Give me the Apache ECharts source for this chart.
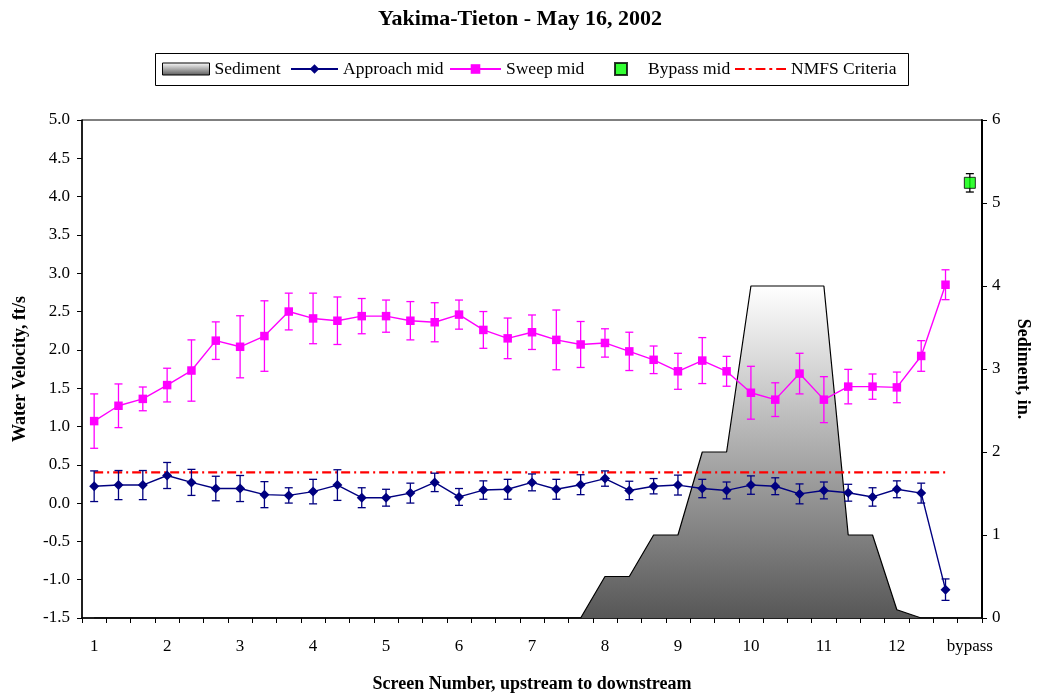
<!DOCTYPE html>
<html>
<head>
<meta charset="utf-8">
<title>Yakima-Tieton - May 16, 2002</title>
<script src="https://cdn.jsdelivr.net/npm/echarts@6/dist/echarts.min.js"></script>
<style>
  html, body { margin: 0; padding: 0; background: #fff; }
  #chart { width: 1040px; height: 698px; }
</style>
</head>
<body>
<div id="chart"></div>
<script>
// Screen labels shown under every third measurement position
const screenLabels = ['1', '2', '3', '4', '5', '6', '7', '8', '9', '10', '11', '12', 'bypass'];

// Mid-depth water velocity (ft/s) at each measurement position, with +/- error
const approachMid = [0.22, 0.235, 0.235, 0.36, 0.27, 0.19, 0.19, 0.11, 0.10, 0.15, 0.235, 0.07, 0.07,
  0.13, 0.27, 0.08, 0.17, 0.18, 0.27, 0.18, 0.24, 0.32, 0.165, 0.22, 0.235, 0.19, 0.165, 0.235, 0.22,
  0.12, 0.165, 0.135, 0.08, 0.18, 0.13, -1.13, null];
const approachErr = [0.20, 0.19, 0.19, 0.17, 0.17, 0.16, 0.17, 0.17, 0.10, 0.16, 0.20, 0.13, 0.11,
  0.13, 0.12, 0.11, 0.12, 0.13, 0.11, 0.13, 0.13, 0.10, 0.12, 0.10, 0.13, 0.12, 0.11, 0.12, 0.11,
  0.13, 0.11, 0.11, 0.12, 0.11, 0.13, 0.14, null];

const sweepMid = [1.07, 1.27, 1.36, 1.54, 1.73, 2.12, 2.04, 2.18, 2.50, 2.41, 2.38, 2.44, 2.44,
  2.38, 2.36, 2.46, 2.26, 2.15, 2.23, 2.13, 2.07, 2.09, 1.98, 1.87, 1.72, 1.86, 1.72, 1.44, 1.35,
  1.69, 1.35, 1.52, 1.52, 1.51, 1.92, 2.85, null];
const sweepErr = [0.355, 0.285, 0.155, 0.22, 0.40, 0.245, 0.405, 0.46, 0.24, 0.33, 0.31, 0.23, 0.21,
  0.25, 0.255, 0.19, 0.24, 0.265, 0.225, 0.39, 0.30, 0.185, 0.25, 0.18, 0.235, 0.30, 0.195, 0.345, 0.22,
  0.265, 0.30, 0.225, 0.165, 0.20, 0.20, 0.195, null];

const bypassMid = 4.18;
const bypassErr = 0.12;

// Sediment depth (in.) in front of the screens
const sediment = [0, 0, 0, 0, 0, 0, 0, 0, 0, 0, 0, 0, 0, 0, 0, 0, 0, 0, 0, 0, 0,
  0.5, 0.5, 1, 1, 2, 2, 4, 4, 4, 4, 1, 1, 0.1, 0, 0, 0];

// NMFS approach velocity criterion (ft/s)
const nmfsCriteria = 0.4;

// ---------------------------------------------------------------------------
const positions = sediment.map((_, i) => String(i));
const bypassIndex = positions.length - 1;
const SERIF = '"Liberation Serif", "DejaVu Serif", serif';

const nmfsLine = positions.map((_, i) => (i < bypassIndex ? nmfsCriteria : null));

function errorData(mid, err) {
  const out = [];
  mid.forEach((v, i) => {
    if (v != null && err[i] != null) out.push([i, v - err[i], v + err[i]]);
  });
  return out;
}

function errorBarSeries(name, data, color) {
  return {
    type: 'custom',
    name: name,
    xAxisIndex: 0,
    yAxisIndex: 0,
    silent: true,
    z: 3,
    encode: { x: 0, y: [1, 2] },
    data: data,
    renderItem: function (params, api) {
      const x = api.value(0);
      const lo = api.coord([x, api.value(1)]);
      const hi = api.coord([x, api.value(2)]);
      const cap = 4;
      const style = { stroke: color, lineWidth: 1.3, fill: null };
      return {
        type: 'group',
        children: [
          { type: 'line', shape: { x1: lo[0], y1: lo[1], x2: hi[0], y2: hi[1] }, style: style },
          { type: 'line', shape: { x1: lo[0] - cap, y1: lo[1], x2: lo[0] + cap, y2: lo[1] }, style: style },
          { type: 'line', shape: { x1: hi[0] - cap, y1: hi[1], x2: hi[0] + cap, y2: hi[1] }, style: style }
        ]
      };
    }
  };
}

const sedimentFill = new echarts.graphic.LinearGradient(0, 0, 0, 1, [
  { offset: 0, color: '#ffffff' },
  { offset: 1, color: '#575757' }
]);

// dash-dot key for the criterion line
const dashDotIcon = 'path://M0,0h10v2h-10z M14,0h3v2h-3z M21,0h10v2h-10z M35,0h3v2h-3z M42,0h10v2h-10z';

const legendText = { fontFamily: SERIF, fontSize: 17.5, color: '#000' };
function legendBox(name, left, opts) {
  return Object.assign({
    data: [name],
    left: left,
    top: 60,
    padding: 0,
    itemWidth: 47,
    itemHeight: 12,
    selectedMode: false,
    textStyle: legendText
  }, opts || {});
}

const chart = echarts.init(document.getElementById('chart'), null, { renderer: 'canvas' });

chart.setOption({
  animation: false,
  backgroundColor: '#fff',
  title: {
    text: 'Yakima-Tieton - May 16, 2002',
    left: 'center',
    top: 3,
    textStyle: { fontFamily: SERIF, fontSize: 22, fontWeight: 'bold', color: '#000' }
  },
  graphic: [{
    type: 'rect',
    shape: { x: 155.5, y: 53.5, width: 753, height: 32 },
    style: { fill: null, stroke: '#000', lineWidth: 1 },
    silent: true
  }],
  legend: [
    legendBox(null, 162, {
      data: [{
        name: 'Sediment',
        icon: 'rect',
        itemStyle: { color: sedimentFill, borderColor: '#000', borderWidth: 1 }
      }]
    }),
    legendBox('Approach mid', 290),
    legendBox('Sweep mid', 449, { itemWidth: 51 }),
    legendBox('Bypass mid', 614, { itemWidth: 12, itemHeight: 12, textStyle: Object.assign({ padding: [0, 0, 0, 16] }, legendText) }),
    legendBox(null, 735, {
      itemWidth: 51,
      itemHeight: 2.5,
      data: [{ name: 'NMFS Criteria', icon: dashDotIcon, itemStyle: { color: '#ff0000' } }]
    })
  ],
  grid: {
    left: 82, top: 120, width: 906, height: 501, containLabel: false,
    show: true, borderColor: '#000', borderWidth: 1, backgroundColor: 'transparent'
  },
  xAxis: {
    type: 'category',
    data: positions,
    boundaryGap: true,
    name: 'Screen Number, upstream to downstream',
    nameLocation: 'middle',
    nameGap: 57,
    nameTextStyle: { fontFamily: SERIF, fontSize: 18, fontWeight: 'bold', color: '#000' },
    axisLine: { onZero: false, lineStyle: { color: '#000', width: 1.5 } },
    axisTick: { show: true, interval: 0, length: 5, inside: false, lineStyle: { color: '#000', width: 1 } },
    axisLabel: {
      interval: 0,
      margin: 20,
      fontFamily: SERIF,
      fontSize: 17,
      color: '#000',
      formatter: function (v, i) { return i % 3 === 0 ? screenLabels[i / 3] : ''; }
    },
    splitLine: { show: false }
  },
  yAxis: [
    {
      type: 'value',
      min: -1.5,
      max: 5,
      interval: 0.5,
      position: 'left',
      name: 'Water Velocity, ft/s',
      nameLocation: 'middle',
      nameGap: 53,
      nameRotate: 90,
      nameTextStyle: { fontFamily: SERIF, fontSize: 18, fontWeight: 'bold', color: '#000' },
      axisLine: { show: true, onZero: false, lineStyle: { color: '#000', width: 1.5 } },
      axisTick: { show: true, length: 5, lineStyle: { color: '#000' } },
      axisLabel: {
        margin: 12, fontFamily: SERIF, fontSize: 17, color: '#000',
        formatter: function (v) { return v.toFixed(1); }
      },
      splitLine: { show: false }
    },
    {
      type: 'value',
      min: 0,
      max: 6,
      interval: 1,
      position: 'right',
      name: 'Sediment, in.',
      nameLocation: 'middle',
      nameGap: 32,
      nameRotate: -90,
      nameTextStyle: { fontFamily: SERIF, fontSize: 18, fontWeight: 'bold', color: '#000' },
      axisLine: { show: true, onZero: false, lineStyle: { color: '#000', width: 2 } },
      axisTick: { show: true, length: 5, lineStyle: { color: '#000' } },
      axisLabel: { margin: 10, fontFamily: SERIF, fontSize: 17, color: '#000' },
      splitLine: { show: false }
    }
  ],
  series: [
    {
      name: 'Sediment',
      type: 'line',
      yAxisIndex: 1,
      data: sediment,
      symbol: 'none',
      z: 1,
      lineStyle: { color: '#000', width: 1.2 },
      itemStyle: { color: '#888' },
      areaStyle: { color: sedimentFill, opacity: 1 }
    },
    {
      name: 'NMFS Criteria',
      type: 'line',
      data: nmfsLine,
      symbol: 'none',
      z: 2,
      lineStyle: { color: '#ff0000', width: 2.2, type: [9, 4, 2, 4] },
      itemStyle: { color: '#ff0000' }
    },
    errorBarSeries('approach error', errorData(approachMid, approachErr), '#000080'),
    errorBarSeries('sweep error', errorData(sweepMid, sweepErr), '#ff00ff'),
    errorBarSeries('bypass error', [[bypassIndex, bypassMid - bypassErr, bypassMid + bypassErr]], '#000000'),
    {
      name: 'Approach mid',
      type: 'line',
      data: approachMid,
      symbol: 'diamond',
      symbolSize: 10,
      z: 4,
      lineStyle: { color: '#000080', width: 1.4 },
      itemStyle: { color: '#000080' }
    },
    {
      name: 'Sweep mid',
      type: 'line',
      data: sweepMid,
      symbol: 'rect',
      symbolSize: 8.5,
      z: 4,
      lineStyle: { color: '#ff00ff', width: 1.4 },
      itemStyle: { color: '#ff00ff' }
    },
    {
      name: 'Bypass mid',
      type: 'scatter',
      data: [[bypassIndex, bypassMid]],
      symbol: 'rect',
      symbolSize: 11,
      z: 5,
      itemStyle: { color: '#00ff00', borderColor: '#000', borderWidth: 1 }
    }
  ]
});
</script>
</body>
</html>
